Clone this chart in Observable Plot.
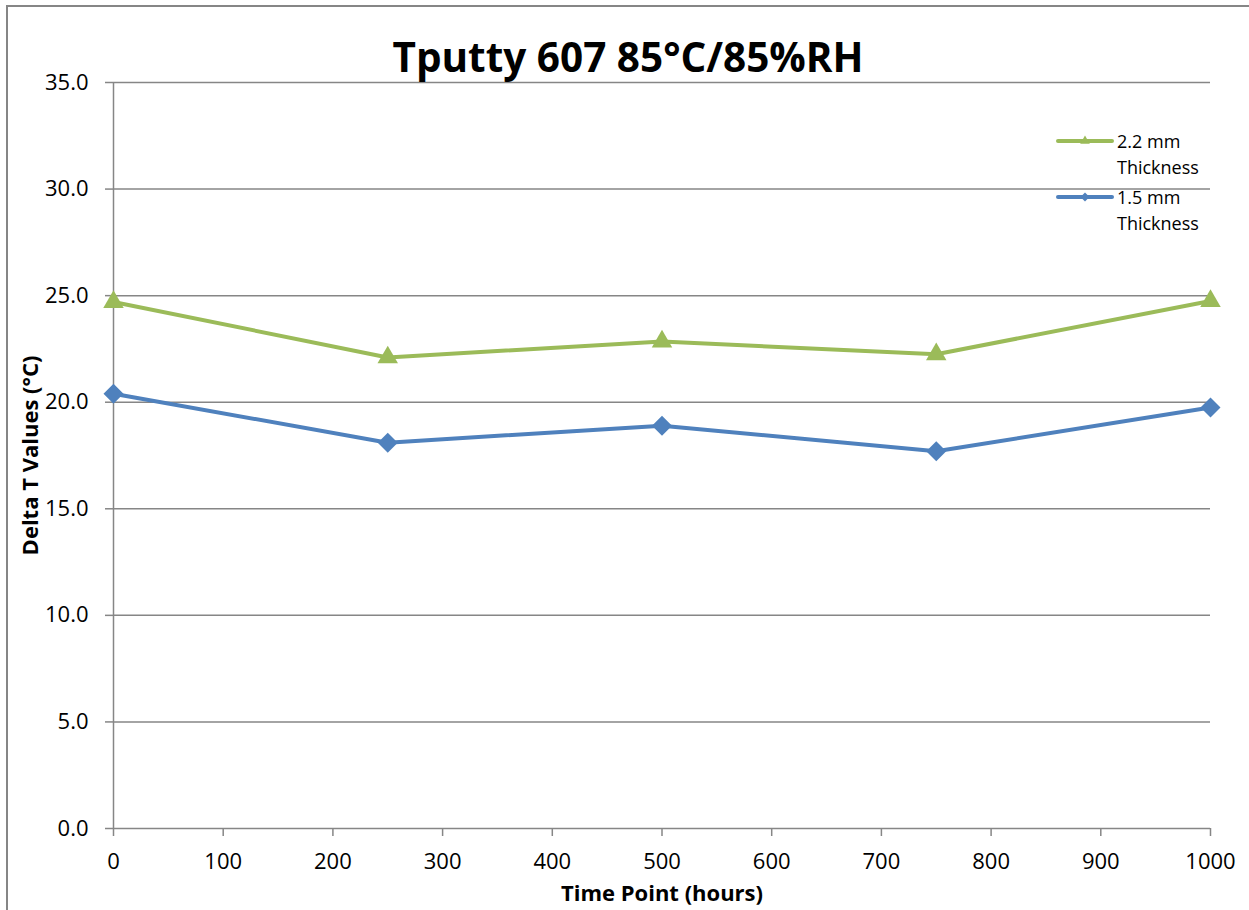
<!DOCTYPE html>
<html>
<head>
<meta charset="utf-8">
<script src="https://cdn.jsdelivr.net/npm/d3@7"></script>
<script src="https://cdn.jsdelivr.net/npm/@observablehq/plot@0.6"></script>
<style>
  html, body { margin: 0; padding: 0; background: #fff; }
  #wrap { position: relative; width: 1249px; height: 910px; overflow: hidden; font-family: "Open Sans", "Noto Sans", sans-serif; }
  #frame { position: absolute; left: 6px; top: 5px; width: 1300px; height: 1000px; border: 2px solid #868686; box-sizing: border-box; }
  #title { position: absolute; left: 0; width: 1256px; top: 30px; text-align: center; font-weight: bold; font-size: 40.5px; color: #000; line-height: 54px; }
  #legend { position: absolute; left: 1056px; top: 128px; font-size: 18px; color: #000; }
  .item { position: relative; height: 56px; }
  .item svg { position: absolute; left: 0; top: 5px; }
  .item div { position: absolute; left: 61px; top: 0; line-height: 26px; }
  #chart { position: absolute; left: 0; top: 0; }
</style>
</head>
<body>
<div id="wrap">
  <div id="frame"></div>
  <div id="chart"></div>
  <div id="title">Tputty 607 85°C/85%RH</div>
  <div id="legend"></div>
</div>
<script>
const hours = [0, 250, 500, 750, 1000];
const thick22 = [24.7, 22.1, 22.85, 22.25, 24.75];
const thick15 = [20.4, 18.1, 18.9, 17.7, 19.75];
const seriesNames = ["2.2 mm Thickness", "1.5 mm Thickness"];
const seriesColors = ["#9BBB59", "#4F81BD"];
const xTicks = [0, 100, 200, 300, 400, 500, 600, 700, 800, 900, 1000];
const yTicks = [0, 5, 10, 15, 20, 25, 30, 35];

const rows22 = hours.map((h, i) => ({hours: h, value: thick22[i]}));
const rows15 = hours.map((h, i) => ({hours: h, value: thick15[i]}));

const gray = "#868686";
const plot = Plot.plot({
  width: 1249,
  height: 910,
  marginLeft: 113,
  marginRight: 39,
  marginTop: 82,
  marginBottom: 82,
  style: {fontFamily: "'Open Sans', 'Noto Sans', sans-serif", fontSize: "22px", color: "#000", background: "transparent"},
  x: {domain: [0, 1000]},
  y: {domain: [0, 35]},
  marks: [
    Plot.ruleY(yTicks, {stroke: gray, strokeWidth: 1.5}),
    Plot.ruleX([0], {stroke: gray, strokeWidth: 1.5}),
    Plot.axisY({ticks: yTicks, tickSize: 8, tickPadding: 17, fontSize: 22, tickFormat: d => d.toFixed(1), stroke: gray, strokeWidth: 1.5, strokeOpacity: 1, label: null, fill: "#000"}),
    Plot.axisX({ticks: xTicks, tickSize: 8, tickPadding: 17, fontSize: 22, tickFormat: d => String(d), stroke: gray, strokeWidth: 1.5, strokeOpacity: 1, label: null, fill: "#000"}),
    Plot.text(["Time Point (hours)"], {frameAnchor: "bottom", dy: 65, lineAnchor: "middle", fontWeight: "bold", fontSize: 22}),
    Plot.text(["Delta T Values (°C)"], {frameAnchor: "left", dx: -83, rotate: -90, textAnchor: "middle", fontWeight: "bold", fontSize: 22}),
    Plot.line(rows22, {x: "hours", y: "value", stroke: seriesColors[0], strokeWidth: 4}),
    Plot.line(rows15, {x: "hours", y: "value", stroke: seriesColors[1], strokeWidth: 4}),
    Plot.dot(rows22, {x: "hours", y: "value", symbol: "triangle", r: 7.6, fill: seriesColors[0], stroke: "none"}),
    Plot.dot(rows15, {x: "hours", y: "value", symbol: "square", r: 8, rotate: 45, fill: seriesColors[1], stroke: "none"})
  ]
});
document.getElementById("chart").appendChild(plot);

// legend
const legend = d3.select("#legend");
const symbols = [d3.symbolTriangle, d3.symbolSquare];
const sizes = [40, 40];
seriesNames.forEach((name, i) => {
  const item = legend.append("div").attr("class", "item");
  const svg = item.append("svg").attr("width", 58).attr("height", 16);
  svg.append("line").attr("x1", 2).attr("x2", 56).attr("y1", 8).attr("y2", 8)
    .attr("stroke", seriesColors[i]).attr("stroke-width", 4).attr("stroke-linecap", "round");
  svg.append("path").attr("d", d3.symbol(symbols[i], sizes[i])())
    .attr("transform", `translate(29,8) rotate(${i === 1 ? 45 : 0})`)
    .attr("fill", seriesColors[i]);
  const parts = name.split(" ");
  item.append("div").html(parts.slice(0, 2).join(" ") + "<br>" + parts.slice(2).join(" "));
});
</script>
</body>
</html>
